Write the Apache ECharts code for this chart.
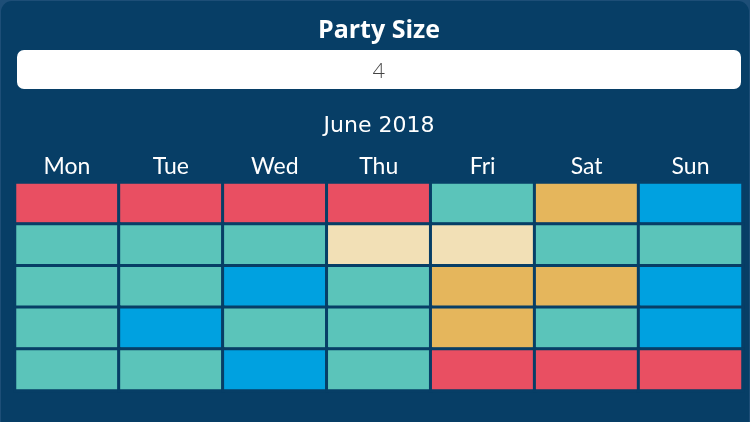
<!DOCTYPE html>
<html lang="en">
<head>
    <meta charset="UTF-8"/>
    <title>Party Size Availability</title>
    <script src="https://cdn.jsdelivr.net/npm/echarts@6/dist/echarts.min.js"></script>
    <style>
        html, body { margin: 0; padding: 0; background: #1d4e77; }
    </style>
</head>
<body>

<div id="main" style="width:750px; height:422px;"></div>
<script type="text/javascript">

    // calendar data
    var partySize = '4';
    var monthLabel = 'June 2018';
    var weekDays = ['Mon', 'Tue', 'Wed', 'Thu', 'Fri', 'Sat', 'Sun'];
    var weeks = ['W1', 'W2', 'W3', 'W4', 'W5'];
    // availability level per day: 0 full, 1 low, 2 limited, 3 open, 4 wide open
    var week1 = [0, 0, 0, 0, 3, 1, 4];
    var week2 = [3, 3, 3, 2, 2, 3, 3];
    var week3 = [3, 3, 4, 3, 1, 1, 4];
    var week4 = [3, 4, 3, 3, 1, 3, 4];
    var week5 = [3, 3, 4, 3, 0, 0, 0];
    var levelColors = ['#e94f62', '#e5b65c', '#f2e0b6', '#5bc4ba', '#00a1e0'];

    var rows = [week1, week2, week3, week4, week5];
    var cells = [];
    for (var r = 0; r < rows.length; r++) {
        for (var c = 0; c < rows[r].length; c++) {
            cells.push([c, r, rows[r][c]]);
        }
    }

    var myChart = echarts.init(document.getElementById('main'));

    var option = {
        backgroundColor: '#1d4e77',
        textStyle: { fontFamily: 'Lato' },
        graphic: [
            {
                type: 'rect', z: -10,
                shape: { x: 1, y: 1, width: 748, height: 440, r: [11, 11, 0, 0] },
                style: { fill: '#073e66' }
            },
            {
                type: 'rect',
                shape: { x: 17, y: 50, width: 724, height: 39, r: 7 },
                style: { fill: '#ffffff' }
            },
            {
                type: 'text', x: 379, y: 71,
                style: {
                    text: partySize, fill: '#444444', font: '300 22px Lato',
                    align: 'center', verticalAlign: 'middle'
                }
            }
        ],
        title: [
            {
                text: 'Party Size', left: 374, top: 13, textAlign: 'center',
                textStyle: { color: '#ffffff', fontSize: 25, fontWeight: 'bold', fontFamily: 'Open Sans' }
            },
            {
                text: monthLabel, left: 374, top: 110, textAlign: 'center',
                textStyle: { color: '#ffffff', fontSize: 22, fontWeight: 'normal', fontFamily: 'DejaVu Sans' }
            }
        ],
        grid: { left: 15, right: 7.5, top: 182.5, bottom: 31.5 },
        xAxis: {
            type: 'category', position: 'top', data: weekDays,
            axisLine: { show: false }, axisTick: { show: false }, splitLine: { show: false },
            axisLabel: { color: '#ffffff', fontSize: 23, margin: 4, fontFamily: 'Lato', fontWeight: 'normal' }
        },
        yAxis: {
            type: 'category', inverse: true, data: weeks, show: false
        },
        visualMap: {
            show: false, type: 'piecewise', dimension: 2,
            pieces: levelColors.map(function (col, i) { return { value: i, color: col }; })
        },
        series: [{
            type: 'heatmap',
            data: cells,
            itemStyle: { borderColor: '#073e66', borderWidth: 3 },
            emphasis: { disabled: true }
        }]
    };

    myChart.setOption(option);
</script>

</body>
</html>
